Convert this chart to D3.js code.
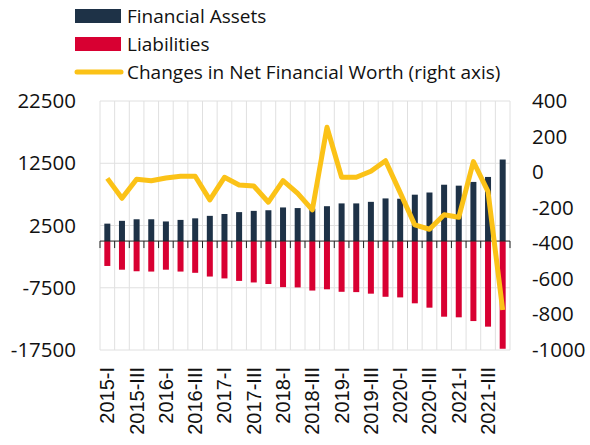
<!DOCTYPE html>
<html>
<head>
<meta charset="utf-8">
<script src="https://cdn.jsdelivr.net/npm/d3@7"></script>
<style>
  body { margin: 0; background: #fff; }
  text { font-family: "Open Sans", sans-serif; fill: #111; }
</style>
</head>
<body>
<script>
// quarters 2015-I .. 2021-IV
const years = [2015, 2016, 2017, 2018, 2019, 2020, 2021];
const quarterNames = ["I", "II", "III", "IV"];
const quarters = years.flatMap(y => quarterNames.map(q => y + "-" + q));

const assets = [2800, 3250, 3500, 3500, 3150, 3400, 3650, 4050, 4350, 4650, 4850, 4950, 5400, 5300,
                5200, 5600, 6050, 6050, 6300, 6850, 6800, 7450, 7800, 9050, 8900, 9500, 10300, 13100];
const liabilities = [-4000, -4600, -4850, -4900, -4600, -4900, -5100, -5700, -6000, -6400, -6650, -6900, -7400, -7450,
                     -7950, -7750, -8150, -8200, -8450, -8950, -9050, -10000, -10700, -12150, -12250, -12850, -13750, -17300];
const netWorth = [-35, -147, -40, -48, -33, -23, -23, -156, -29, -72, -78, -169, -48, -119,
                  -212, 252, -29, -29, 5, 64, -115, -297, -321, -240, -254, 59, -110, -775];

const leftTicks = [22500, 12500, 2500, -7500, -17500];
const rightTicks = [400, 200, 0, -200, -400, -600, -800, -1000];

const width = 590, height = 445;
const margin = { top: 101, right: 80, bottom: 95, left: 100 };
const plotW = width - margin.left - margin.right;
const plotH = height - margin.top - margin.bottom;

const svg = d3.select("body")
    .append("svg")
    .attr("width", width)
    .attr("height", height);

const x = d3.scaleBand().domain(quarters).range([margin.left, margin.left + plotW]).padding(0);
const yL = d3.scaleLinear().domain([-17500, 22500]).range([margin.top + plotH, margin.top]);
const yR = d3.scaleLinear().domain([-1000, 400]).range([margin.top + plotH, margin.top]);

const fmt = d => String(d); // plain hyphen minus, no thousands separator

const grid = svg.append("g").attr("stroke", "#e0e0e0").attr("stroke-width", 1);
// vertical lines at band boundaries
quarters.forEach((q, i) => {
    grid.append("line")
        .attr("x1", x(q)).attr("x2", x(q))
        .attr("y1", margin.top).attr("y2", margin.top + plotH);
});
grid.append("line")
    .attr("x1", margin.left + plotW).attr("x2", margin.left + plotW)
    .attr("y1", margin.top).attr("y2", margin.top + plotH);
// horizontal lines
leftTicks.forEach(t => {
    grid.append("line")
        .attr("x1", margin.left).attr("x2", margin.left + plotW)
        .attr("y1", yL(t)).attr("y2", yL(t));
});

const barW = 6;
svg.append("g").selectAll("rect")
    .data(assets)
    .enter()
    .append("rect")
    .attr("x", (d, i) => x(quarters[i]) + x.bandwidth() / 2 - barW / 2)
    .attr("width", barW)
    .attr("y", d => yL(d))
    .attr("height", d => yL(0) - yL(d))
    .attr("fill", "#1e3247");

svg.append("g").selectAll("rect")
    .data(liabilities)
    .enter()
    .append("rect")
    .attr("x", (d, i) => x(quarters[i]) + x.bandwidth() / 2 - barW / 2)
    .attr("width", barW)
    .attr("y", yL(0))
    .attr("height", d => yL(d) - yL(0))
    .attr("fill", "#d80032");

// zero axis with ticks at boundaries
const zero = svg.append("g").attr("stroke", "#222").attr("stroke-width", 1);
zero.append("line")
    .attr("x1", margin.left).attr("x2", margin.left + plotW)
    .attr("y1", yL(0)).attr("y2", yL(0));
quarters.concat([null]).forEach((q, i) => {
    const xx = q ? x(q) : margin.left + plotW;
    zero.append("line")
        .attr("x1", xx).attr("x2", xx)
        .attr("y1", yL(0)).attr("y2", yL(0) + 7);
});

const line = d3.line()
    .x((d, i) => x(quarters[i]) + x.bandwidth() / 2)
    .y(d => yR(d));

svg.append("path")
    .datum(netWorth)
    .attr("fill", "none")
    .attr("stroke", "#fbc217")
    .attr("stroke-width", 5)
    .attr("stroke-linejoin", "round")
    .attr("d", line);

// left axis
const axisL = svg.append("g")
    .attr("transform", `translate(${margin.left},0)`)
    .call(d3.axisLeft(yL).tickValues(leftTicks).tickFormat(fmt).tickSize(0).tickPadding(24));
axisL.select(".domain").remove();
axisL.selectAll("text").attr("font-size", 20.5).attr("font-family", "Open Sans").attr("fill", "#111");

// right axis
const axisR = svg.append("g")
    .attr("transform", `translate(${margin.left + plotW},0)`)
    .call(d3.axisRight(yR).tickValues(rightTicks).tickFormat(fmt).tickSize(0).tickPadding(22));
axisR.select(".domain").remove();
axisR.selectAll("text").attr("font-size", 20.5).attr("font-family", "Open Sans").attr("fill", "#111");

// x labels, every other quarter
const xLabels = quarters.filter((q, i) => i % 2 === 0);
svg.append("g").selectAll("text")
    .data(xLabels)
    .enter()
    .append("text")
    .attr("transform", d => `translate(${x(d) + x.bandwidth() / 2 + 7},367) rotate(-90)`)
    .attr("text-anchor", "end")
    .attr("font-size", 20)
    .style("font-family", "'Liberation Sans', Arial, sans-serif")
    .text(d => d);

// legend
const legendItems = [
    { label: "Financial Assets", type: "rect", color: "#1e3247" },
    { label: "Liabilities", type: "rect", color: "#d80032" },
    { label: "Changes in Net Financial Worth (right axis)", type: "line", color: "#fbc217" }
];
const legend = svg.append("g");
legendItems.forEach((d, i) => {
    const cy = 16 + i * 28;
    if (d.type === "rect") {
        legend.append("rect")
            .attr("x", 75).attr("y", cy - 7)
            .attr("width", 46).attr("height", 14)
            .attr("fill", d.color);
    } else {
        legend.append("line")
            .attr("x1", 77).attr("x2", 121)
            .attr("y1", cy).attr("y2", cy)
            .attr("stroke", d.color)
            .attr("stroke-width", 5)
            .attr("stroke-linecap", "round");
    }
    legend.append("text")
        .attr("x", 127).attr("y", cy)
        .attr("dy", "0.35em")
        .attr("font-size", 19)
        .text(d.label);
});
</script>
</body>
</html>
